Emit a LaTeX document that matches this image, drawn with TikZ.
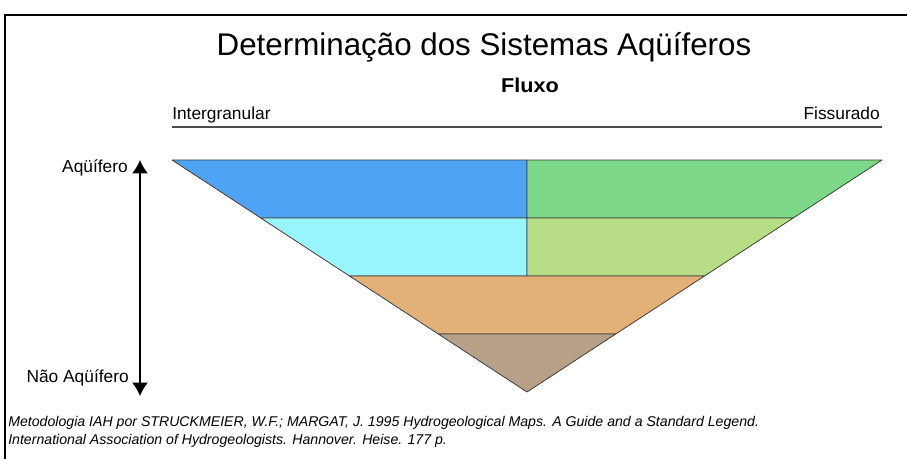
\documentclass[tikz,border=0pt]{standalone}
\usepackage{fontspec}
\setmainfont{Liberation Sans}
\usetikzlibrary{positioning,calc,arrows.meta}

% layer colours
\definecolor{azulAq}{RGB}{79,163,245}
\definecolor{verdeAq}{RGB}{126,216,138}
\definecolor{cianoAq}{RGB}{153,245,255}
\definecolor{verdeClaro}{RGB}{183,222,135}
\definecolor{laranjaAq}{RGB}{227,176,120}
\definecolor{marromAq}{RGB}{183,160,136}

\tikzset{
  camada/.style={draw=black!75,line width=0.6pt,line join=round},
  rotulo/.style={inner sep=0pt,font=\fontsize{13}{15}\selectfont},
  escala/.style={line width=1.1pt,{Latex[length=10pt,width=12pt]}-{Latex[length=10pt,width=12pt]}},
}

\begin{document}
\begin{tikzpicture}[x=0.75pt,y=-0.75pt]
	\useasboundingbox (0,0) rectangle (907,459);
	% frame (open to the right and below)
	\draw[line width=0.9pt] (5,459) -- (5,15) -- (907,15);

	% titles
	\node[inner sep=0pt,anchor=base,font=\fontsize{23.5}{28}\selectfont] (titulo) at (484,56) {Determinação dos Sistemas Aqüíferos};
	\node[inner sep=0pt,anchor=base,xscale=1.08,font=\fontsize{15}{18}\selectfont\bfseries] (fluxo) at (530,93) {Fluxo};
	\node[rotulo,anchor=base west] (inter) at (172,120) {Intergranular};
	\node[rotulo,anchor=base east] (fiss) at (880,120) {Fissurado};
	\coordinate (eixoE) at (172,127);
	\coordinate (eixoD) at (882,127);
	\draw[line width=1.5pt,black!70] (eixoE) -- (eixoD);

	% corners of the inverted triangle
	\coordinate (L0) at (172,160);
	\coordinate (R0) at (882,160);
	\coordinate (apice) at (527,392);
	% NOTE! the layers are equally thick
	\foreach \k in {1,2,3}{
		\coordinate (L\k) at ($(L0)!\k/4!(apice)$);
		\coordinate (R\k) at ($(R0)!\k/4!(apice)$);
	}
	\foreach \k in {0,1,2}{
		\coordinate (M\k) at (L\k -| apice);
	}

	% the layers, top to bottom
	\draw[camada,fill=azulAq] (L0) -- (M0) -- (M1) -- (L1) -- cycle;
	\draw[camada,fill=verdeAq] (M0) -- (R0) -- (R1) -- (M1) -- cycle;
	\draw[camada,fill=cianoAq] (L1) -- (M1) -- (M2) -- (L2) -- cycle;
	\draw[camada,fill=verdeClaro] (M1) -- (R1) -- (R2) -- (M2) -- cycle;
	\draw[camada,fill=laranjaAq] (L2) -- (R2) -- (R3) -- (L3) -- cycle;
	\draw[camada,fill=marromAq] (L3) -- (R3) -- (apice) -- cycle;

	% scale arrow on the left
	\coordinate (topo) at (140,160);
	\coordinate (base) at (140,396);
	\draw[escala] (topo) -- (base);
	\node[rotulo,anchor=base east] (aq) at (128,173) {Aqüífero};
	\node[rotulo,anchor=base east] (naoaq) at (129,383) {Não Aqüífero};

	% reference
	\node[inner sep=0pt,anchor=west,align=left,font=\fontsize{10.6}{13.5}\selectfont\itshape] (ref) at (8,432)
		{Metodologia IAH por STRUCKMEIER, W.F.; MARGAT, J. 1995 Hydrogeological Maps. A Guide and a Standard Legend.\\
		 International Association of Hydrogeologists. Hannover. Heise. 177 p.};
\end{tikzpicture}
\end{document}
